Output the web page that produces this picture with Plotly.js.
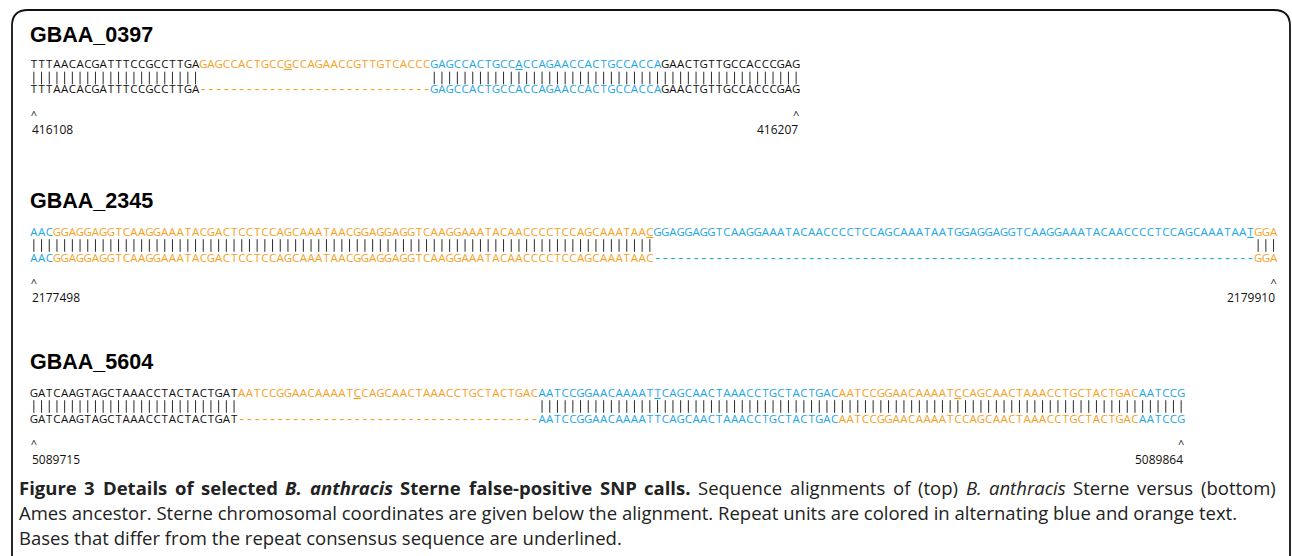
<!DOCTYPE html>
<html>
<head>
<meta charset="utf-8">
<script src="https://cdn.plot.ly/plotly-3.0.1.min.js"></script>
<style>html,body{margin:0;padding:0;background:#fff;}#chart{width:1292px;height:556px;}</style>
</head>
<body>
<div id="chart"></div>
<script>
// ---------------- DATA ----------------
const panelNames = ["GBAA_0397", "GBAA_2345", "GBAA_5604"];

// GBAA_0397 : segments of the Sterne (top) and Ames ancestor (bottom) sequences
const p1TopSeg = ["TTTAACACGATTTCCGCCTTGA", "GAGCCACTGCCGCCAGAACCGTTGTCACCC", "GAGCCACTGCCACCAGAACCACTGCCACCA", "GAACTGTTGCCACCCGAG"];
const p1BotSeg = ["TTTAACACGATTTCCGCCTTGA", "------------------------------", "GAGCCACTGCCACCAGAACCACTGCCACCA", "GAACTGTTGCCACCCGAG"];
const p1SegColor = ["k", "o", "b", "k"];
const p1Underlined = [33, 63];

// GBAA_2345
const p2TopSeg = ["AAC", "GGAGGAGGTCAAGGAAATACGACTCCTCCAGCAAATAACGGAGGAGGTCAAGGAAATACAACCCCTCCAGCAAATAAC", "GGAGGAGGTCAAGGAAATACAACCCCTCCAGCAAATAATGGAGGAGGTCAAGGAAATACAACCCCTCCAGCAAATAAT", "GGA"];
const p2BotSeg = ["AAC", "GGAGGAGGTCAAGGAAATACGACTCCTCCAGCAAATAACGGAGGAGGTCAAGGAAATACAACCCCTCCAGCAAATAAC", "------------------------------------------------------------------------------", "GGA"];
const p2SegColor = ["b", "o", "b", "o"];
const p2Underlined = [80, 158];

// GBAA_5604
const p3TopSeg = ["GATCAAGTAGCTAAACCTACTACTGAT", "AATCCGGAACAAAATCCAGCAACTAAACCTGCTACTGAC", "AATCCGGAACAAAATTCAGCAACTAAACCTGCTACTGAC", "AATCCGGAACAAAATCCAGCAACTAAACCTGCTACTGAC", "AATCCG"];
const p3BotSeg = ["GATCAAGTAGCTAAACCTACTACTGAT", "---------------------------------------", "AATCCGGAACAAAATTCAGCAACTAAACCTGCTACTGAC", "AATCCGGAACAAAATCCAGCAACTAAACCTGCTACTGAC", "AATCCG"];
const p3SegColor = ["k", "o", "b", "o", "b"];
const p3Underlined = [42, 81, 120];

// Sterne chromosomal coordinates (start / end of each alignment)
const startCoords = ["416108", "2177498", "5089715"];
const endCoords = ["416207", "2179910", "5089864"];

// caption words (text, style: b = bold, i = italic)
const captionLine1 = [
  ["Figure", "b"], ["3", "b"], ["Details", "b"], ["of", "b"], ["selected", "b"], ["B.", "bi"], ["anthracis", "bi"],
  ["Sterne", "b"], ["false-positive", "b"], ["SNP", "b"], ["calls.", "b"], ["Sequence", ""], ["alignments", ""],
  ["of", ""], ["(top)", ""], ["B.", "i"], ["anthracis", "i"], ["Sterne", ""], ["versus", ""], ["(bottom)", ""]
];
const captionLine2 = "Ames ancestor. Sterne chromosomal coordinates are given below the alignment. Repeat units are colored in alternating blue and orange text.";
const captionLine3 = "Bases that differ from the repeat consensus sequence are underlined.";

// ---------------- STYLE / LAYOUT ----------------
const palette = { k: "#111111", o: "#F6A01E", b: "#1DA6E4" };
const W = 1292, H = 556;
const charW = 7.7, seqLeft = 30;        // pixel grid of the alignment
const rows = [
  { title: 35, top: 65, bar: 78, bot: 90.5, caret: 116, num: 129.5 },
  { title: 201, top: 233, bar: 245.5, bot: 259, caret: 284, num: 297.5 },
  { title: 362, top: 394, bar: 406.5, bot: 420, caret: 445, num: 459 }
];
const seqFont = "Open Sans, Noto Sans, sans-serif";
const seqSize = 11.5, dashSize = 15;

const panels = [
  { top: p1TopSeg, bot: p1BotSeg, col: p1SegColor, und: p1Underlined },
  { top: p2TopSeg, bot: p2BotSeg, col: p2SegColor, und: p2Underlined },
  { top: p3TopSeg, bot: p3BotSeg, col: p3SegColor, und: p3Underlined }
];

const traces = [];
const annotations = [];

panels.forEach((p, k) => {
  const r = rows[k];
  const tx = [], tt = [], tc = [];
  const bx = [], bt = [], bc = [], bs = [];
  const lx = [];
  let idx = 0;
  p.top.forEach((seg, s) => {
    const botSeg = p.bot[s];
    for (let j = 0; j < seg.length; j++) {
      const c = seg[j], d = botSeg[j];
      tx.push(idx);
      tt.push(p.und.includes(idx) ? "<u>" + c + "</u>" : c);
      tc.push(palette[p.col[s]]);
      bx.push(idx);
      bt.push(d);
      bc.push(palette[p.col[s]]);
      bs.push(d === "-" ? dashSize : seqSize);
      if (c !== "-" && d !== "-") lx.push(idx);
      idx++;
    }
  });
  const n = idx;
  traces.push({
    type: "scatter", mode: "text", x: tx, y: tx.map(() => r.top), text: tt,
    textposition: "middle center", hoverinfo: "skip", showlegend: false,
    textfont: { family: seqFont, size: seqSize, color: tc }
  });
  // match bars
  traces.push({
    type: "scatter", mode: "markers", x: lx, y: lx.map(() => r.bar),
    hoverinfo: "skip", showlegend: false,
    marker: { symbol: "line-ns", size: 9, line: { width: 1, color: "#2a2a2a" } }
  });
  traces.push({
    type: "scatter", mode: "text", x: bx, y: bx.map(() => r.bot), text: bt,
    textposition: "middle center", hoverinfo: "skip", showlegend: false,
    textfont: { family: seqFont, size: bs, color: bc }
  });
  // carets at the first and last aligned positions
  traces.push({
    type: "scatter", mode: "text", x: [0, n - 1], y: [r.caret, r.caret], text: ["^", "^"],
    textposition: "middle center", hoverinfo: "skip", showlegend: false,
    textfont: { family: seqFont, size: 11, color: "#111" }
  });
  annotations.push({
    x: -0.5, y: r.num, xref: "x", yref: "y", xanchor: "left", yanchor: "middle",
    text: startCoords[k], showarrow: false, font: { family: seqFont, size: 12, color: "#111" }
  });
  annotations.push({
    x: n - 0.5, y: r.num, xref: "x", yref: "y", xanchor: "right", yanchor: "middle",
    text: endCoords[k], showarrow: false, font: { family: seqFont, size: 12, color: "#111" }
  });
  annotations.push({
    x: 28 / W, y: r.title, xref: "paper", yref: "y", xanchor: "left", yanchor: "middle",
    text: "<b>" + panelNames[k] + "</b>", showarrow: false,
    font: { family: "Liberation Sans, Arial, sans-serif", size: 21.5, color: "#000" }
  });
});

// caption: first line justified between left and right margins
const capSize = 18.5, capFam = "Open Sans, Noto Sans, sans-serif", capColor = "#222";
const capFont = { family: capFam, size: capSize, color: capColor };
const capLeft = 20, capRight = 1277;
const ctx = document.createElement("canvas").getContext("2d");
const widths = captionLine1.map(([w, st]) => {
  ctx.font = (st.includes("i") ? "italic " : "") + (st.includes("b") ? "bold " : "") + capSize + "px 'Open Sans'";
  return ctx.measureText(w).width;
});
const totalW = widths.reduce((a, b) => a + b, 0);
const gap = (capRight - capLeft - totalW) / (captionLine1.length - 1);
let cx = capLeft;
captionLine1.forEach(([w, st], i) => {
  let t = w;
  if (st.includes("i")) t = "<i>" + t + "</i>";
  if (st.includes("b")) t = "<b>" + t + "</b>";
  annotations.push({
    x: (cx - 1) / W, y: 487, xref: "paper", yref: "y", xanchor: "left", yanchor: "middle",
    text: t, showarrow: false, font: capFont, borderpad: 0, borderwidth: 0
  });
  cx += widths[i] + gap;
});
[[captionLine2, 512], [captionLine3, 537]].forEach(([t, y]) => annotations.push({
  x: (capLeft - 1) / W, y: y, xref: "paper", yref: "y", xanchor: "left", yanchor: "middle",
  text: t, showarrow: false, font: capFont, borderpad: 0, borderwidth: 0
}));

// rounded frame (paper fractions)
const px = v => (v / W).toFixed(5), py = v => (1 - v / H).toFixed(5);
const framePath = `M ${px(12)} ${py(600)} L ${px(12)} ${py(26)} Q ${px(12)} ${py(10)} ${px(28)} ${py(10)} L ${px(1274)} ${py(10)} Q ${px(1290)} ${py(10)} ${px(1290)} ${py(26)} L ${px(1290)} ${py(600)}`;

// x axis in alignment-character units: index i is centred at seqLeft + charW*(i+0.5) px
const x0 = -(seqLeft + charW / 2) / charW;
const x1 = (W - seqLeft - charW / 2) / charW;

const layout = {
  width: W, height: H,
  margin: { l: 0, r: 0, t: 0, b: 0, pad: 0 },
  paper_bgcolor: "#ffffff", plot_bgcolor: "#ffffff",
  showlegend: false,
  xaxis: { range: [x0, x1], visible: false, fixedrange: true },
  yaxis: { range: [H, 0], visible: false, fixedrange: true },
  annotations: annotations,
  shapes: [{ type: "path", xref: "paper", yref: "paper", path: framePath, line: { color: "#111", width: 1.8 } }]
};

Plotly.newPlot("chart", traces, layout, { staticPlot: true, displayModeBar: false });
</script>
</body>
</html>
